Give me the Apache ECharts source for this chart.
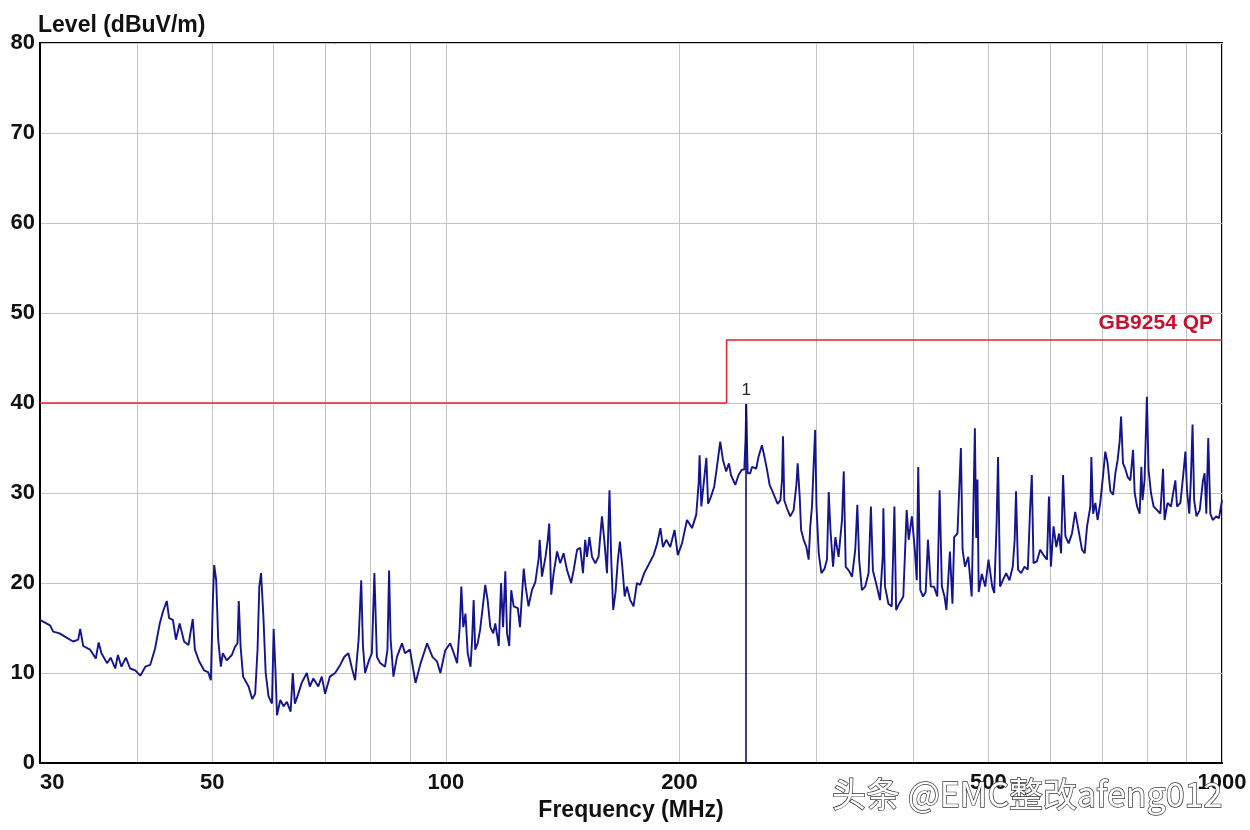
<!DOCTYPE html>
<html><head><meta charset="utf-8">
<script src="https://cdn.jsdelivr.net/npm/echarts@6/dist/echarts.min.js"></script>
<style>html,body{margin:0;padding:0;background:#fff}#c{width:1250px;height:830px}</style>
</head><body><div id="c"></div>
<script>
// Measured trace: frequency (MHz) and level (dBuV/m)
const freqMHz = [
30.0,30.9,31.2,31.8,32.5,33.1,33.6,33.8,34.1,34.8,35.4,35.7,36.0,36.6,37.0,37.5,37.8,38.2,38.7,39.2,39.8,
40.4,41.0,41.6,42.2,42.8,43.2,43.7,44.0,44.5,44.9,45.4,46.0,46.6,47.2,47.5,48.1,48.8,49.4,49.8,
50.1,50.3,50.6,50.9,51.3,51.6,52.2,53.0,53.5,53.9,54.1,54.4,54.8,55.7,56.3,56.8,57.2,57.5,57.8,58.2,58.6,59.1,59.7,
60.0,60.3,60.6,61.2,61.8,62.4,63.1,63.5,63.9,64.5,65.2,66.2,66.8,67.5,68.5,69.2,69.9,
70.9,72.0,73.1,74.0,74.9,75.7,76.4,77.2,77.8,78.2,78.7,79.6,80.3,80.9,81.5,82.3,83.5,84.1,84.5,84.9,85.6,86.5,87.8,88.6,89.9,
91.4,92.8,94.6,96.1,97.4,98.4,99.8,101.3,102.4,103.4,104.2,104.7,105.3,106.0,106.7,107.6,108.1,108.6,109.1,109.9,
110.7,111.6,112.4,113.2,114.1,115.1,115.8,117.0,117.8,118.5,119.3,119.9,120.7,121.4,122.3,123.8,124.6,125.4,126.0,126.7,127.8,129.1,
130.4,131.7,132.1,133.0,134.4,135.3,135.9,136.7,137.7,139.1,140.4,141.8,143.3,145.0,146.1,147.6,149.0,150.2,151.2,152.0,153.1,154.3,155.8,157.3,158.9,
160.0,161.3,162.5,163.3,164.3,165.4,166.6,167.6,168.8,170.0,171.1,172.8,174.5,176.3,178.0,180.1,182.4,185.2,187.2,189.0,190.4,192.3,194.6,197.1,199.0,
201.5,204.5,207.6,210.2,211.7,212.3,213.4,214.9,216.6,217.7,219.6,221.7,223.5,225.7,227.5,229.7,231.6,233.0,236.0,238.3,240.7,242.4,243.3,243.8,244.8,
246.7,248.0,249.2,251.1,252.8,255.4,257.1,259.3,261.3,263.2,265.8,267.6,269.8,271.1,271.9,272.9,275.1,277.8,280.6,282.9,284.0,285.7,286.9,289.1,291.4,293.4,294.8,296.3,297.7,299.1,
300.3,302.3,304.7,307.6,309.8,311.4,313.0,315.4,317.6,320.6,323.9,325.6,327.5,330.4,333.7,336.9,339.0,340.8,343.6,347.0,350.5,352.9,355.0,359.2,362.5,365.5,366.2,368.0,371.7,375.4,378.4,380.3,383.8,388.5,392.4,394.8,398.5,
402.0,404.3,406.1,408.6,412.0,415.2,418.0,421.5,425.5,429.7,432.7,435.6,439.0,441.5,446.1,449.5,451.8,456.2,460.9,463.2,466.5,471.1,475.9,480.4,482.3,484.1,485.9,490.4,495.4,
500.2,505.8,508.8,512.4,514.6,517.7,521.8,527.1,532.3,537.5,540.6,542.8,546.0,551.1,556.6,562.1,566.1,568.8,571.7,577.3,583.1,588.9,595.0,598.5,
601.9,606.7,611.7,616.7,620.4,624.1,628.4,634.5,640.8,646.9,653.3,660.1,665.3,670.1,676.7,678.7,682.2,686.8,691.4,696.8,
702.4,707.3,712.3,718.1,723.9,728.9,733.8,738.1,741.2,745.5,750.5,755.7,761.9,768.1,771.8,777.3,783.3,787.2,790.1,794.7,
800.3,804.2,810.0,816.4,824.8,832.8,839.5,843.4,850.7,859.5,866.3,870.8,875.2,883.8,890.9,897.1,
901.4,907.4,911.7,916.3,920.7,927.2,936.1,945.1,949.7,954.5,960.0,966.0,972.9,983.0,991.2,1000
];
const levelDb = [
15.9,15.3,14.6,14.4,13.9,13.5,13.7,14.9,13.0,12.6,11.6,13.4,12.2,11.1,11.7,10.5,12.0,10.7,11.7,10.5,10.3,
9.7,10.7,10.9,12.7,15.5,16.8,18.0,16.1,15.9,13.7,15.5,13.5,13.1,16.0,12.6,11.3,10.3,10.1,9.2,
18.1,22.0,20.3,13.7,10.7,12.2,11.4,12.0,12.9,13.3,18.0,12.9,9.6,8.5,7.1,7.7,12.6,19.6,21.1,16.3,10.0,7.4,6.6,
14.9,10.7,5.3,7.0,6.3,6.8,5.7,10.0,6.6,7.6,8.9,10.0,8.5,9.4,8.5,9.6,7.7,
9.6,10.0,10.9,11.8,12.2,10.5,9.2,13.7,20.3,13.0,10.0,11.4,12.2,21.1,11.8,11.1,10.7,12.6,21.4,13.7,9.6,11.8,13.3,12.2,12.6,
8.9,11.1,13.3,11.8,11.3,10.0,12.5,13.3,12.2,11.1,15.1,19.6,15.1,16.6,12.2,10.7,13.7,18.1,12.6,13.3,
14.8,17.4,19.8,18.1,15.1,14.4,15.5,13.0,20.0,15.1,21.3,14.4,13.0,19.2,17.4,17.2,15.1,18.9,21.6,19.6,17.4,19.2,
20.1,22.7,24.8,20.7,22.9,24.8,26.6,18.7,21.1,23.5,22.2,23.3,21.4,20.0,21.4,23.7,23.9,21.1,24.8,22.9,25.1,22.9,22.2,22.9,27.4,
24.8,21.1,30.3,22.9,17.0,18.9,22.6,24.6,21.8,18.5,19.6,18.1,17.4,20.0,19.8,21.1,22.0,23.1,24.4,26.1,24.0,24.8,24.0,25.9,23.1,
24.4,27.0,26.1,27.6,31.1,34.2,28.5,31.1,33.9,28.8,29.6,30.7,32.9,35.7,33.7,32.4,33.3,32.0,30.9,32.0,32.6,32.6,35.9,39.9,32.2,
32.2,32.9,32.9,32.7,34.0,35.3,34.2,32.6,30.9,30.3,29.4,28.8,29.2,31.4,36.3,29.2,28.3,27.4,28.1,30.9,33.3,29.6,25.9,24.8,24.0,22.6,26.3,28.5,32.9,37.0,
28.5,23.3,21.1,21.6,22.6,30.1,25.9,21.8,25.1,22.9,27.0,32.4,21.8,21.4,20.7,23.7,28.7,22.6,19.2,19.6,21.1,28.5,21.4,19.6,18.1,22.9,28.3,19.6,17.7,17.4,28.5,17.0,17.7,18.5,28.1,24.8,27.4,
23.7,20.3,32.9,19.2,18.5,19.0,24.8,19.6,19.6,18.5,30.3,19.6,18.5,17.0,23.5,17.7,25.1,25.5,35.0,23.7,21.8,22.9,18.5,37.2,25.0,31.5,19.0,21.0,19.6,
22.6,19.6,18.9,26.6,34.0,19.6,20.3,21.1,20.3,21.8,24.8,30.2,21.5,21.1,21.8,21.5,28.5,32.0,22.2,22.4,23.7,23.1,22.6,29.6,
21.8,26.3,24.0,25.5,23.3,32.0,25.2,24.4,25.5,27.9,25.9,23.7,23.3,26.3,28.5,34.0,27.7,28.9,27.0,28.9,
31.8,34.6,33.3,30.2,29.8,32.2,33.7,35.7,38.5,33.3,32.7,31.8,31.4,34.8,30.0,28.5,27.7,32.9,29.2,31.4,
40.7,32.6,30.0,28.5,28.1,27.7,32.7,27.0,28.9,28.5,30.3,31.4,28.5,28.9,31.8,34.6,
30.3,27.7,31.4,37.6,29.2,27.4,28.1,31.4,32.2,27.7,36.1,27.7,27.0,27.4,27.2,29.2
];
// Limit line GB9254 QP
const limitFreq = [30, 230, 230, 1000];
const limitLevel = [40, 40, 47, 47];
const limitName = 'GB9254 QP';
// Marker 1
const markerFreq = 243.8;
const markerLevel = 39.9;
const markerLabel = '1';
// Axis ticks
const xGridTicks = [30,40,50,60,70,80,90,100,200,300,400,500,600,700,800,900,1000];
const xTickLabels = [30,50,100,200,500,1000];
const yMin = 0, yMax = 80, yStep = 10;
const yTitle = 'Level (dBuV/m)';
const xTitle = 'Frequency (MHz)';

const trace = freqMHz.map((f, i) => [f, levelDb[i]]);
const limit = limitFreq.map((f, i) => [f, limitLevel[i]]);

const chart = echarts.init(document.getElementById('c'), null, {renderer: 'canvas'});
const FONT = '"Liberation Sans", Arial, sans-serif';
const labelFont = {fontFamily: FONT, fontWeight: 'bold', fontSize: 22, color: '#111'};
chart.setOption({
  animation: false,
  backgroundColor: '#fff',
  grid: {left: 40, right: 28, top: 43, bottom: 67, show: true, borderColor: '#000', borderWidth: 2, backgroundColor: '#fff'},
  xAxis: {
    type: 'log', logBase: 10, min: 30, max: 1000,
    name: xTitle, nameLocation: 'middle', nameGap: 34,
    nameTextStyle: Object.assign({}, labelFont, {fontSize: 23}),
    axisLine: {show: true, onZero: false, lineStyle: {color: '#000', width: 2}},
    axisTick: {show: false, customValues: xGridTicks},
    axisLabel: Object.assign({customValues: xTickLabels, margin: 9, alignMinLabel: 'left',
      formatter: v => String(Math.round(v))}, labelFont),
    splitLine: {show: true, lineStyle: {color: '#c4c4c4', width: 1}}
  },
  yAxis: {
    type: 'value', min: yMin, max: yMax, interval: yStep,
    axisLine: {show: true, lineStyle: {color: '#000', width: 2}},
    axisTick: {show: false},
    axisLabel: Object.assign({margin: 5}, labelFont),
    splitLine: {show: true, lineStyle: {color: '#c4c4c4', width: 1}}
  },
  series: [
    {
      type: 'line', name: limitName, data: limit, showSymbol: false, symbol: 'none',
      lineStyle: {color: '#e3262b', width: 1.6}, z: 3,
      markPoint: {
        symbol: 'circle', symbolSize: 0, silent: true,
        data: [{coord: [limitFreq[3], limitLevel[3]],
          label: {show: true, formatter: limitName, position: 'left', distance: 9, offset: [0, -17],
            color: '#c8102e', fontFamily: FONT, fontWeight: 'bold', fontSize: 21}}]
      }
    },
    {
      type: 'line', name: 'Level', data: trace, showSymbol: false, symbol: 'none',
      lineStyle: {color: '#14148f', width: 1.9}, z: 4,
      markLine: {
        symbol: 'none', silent: true, label: {show: false},
        lineStyle: {color: '#101060', width: 1.6, type: 'solid'},
        data: [[{coord: [markerFreq, 0]}, {coord: [markerFreq, markerLevel]}]]
      },
      markPoint: {
        symbol: 'circle', symbolSize: 0, silent: true,
        data: [{coord: [markerFreq, markerLevel],
          label: {show: true, formatter: markerLabel, position: 'top', distance: 5,
            color: '#222', fontFamily: FONT, fontSize: 17}}]
      }
    }
  ],
  graphic: [
    {
      type: 'text', left: 38, top: 14, z: 100,
      style: {text: yTitle, font: 'bold 23px "Liberation Sans", Arial, sans-serif', fill: '#111'}
    },
    {
      type: 'text', right: 27, top: 776, z: 100,
      style: {text: '头条 @EMC整改afeng012', font: '34px "Noto Sans CJK SC"', fill: '#ffffff', stroke: '#333333', lineWidth: 1.4}
    }
  ]
});
</script></body></html>
